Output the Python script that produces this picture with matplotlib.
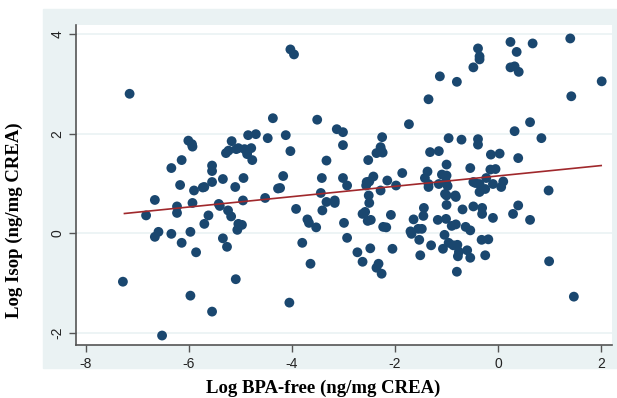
import matplotlib
matplotlib.use('Agg')
import matplotlib.pyplot as plt
import numpy as np
from matplotlib.patches import Rectangle

# Log BPA-free (x) and Log Isop (y)
bpa = [-7.15, -6.01, -5.94, -5.93, -6.14, -6.34, -6.17, -5.90, -5.73, -5.55,
       -5.55, -5.55, -4.03, -3.96, -4.37, -3.51, -3.13, -3.01, -3.01, -4.85,
       -4.70, -4.47, -4.12, -5.17, -4.03, -5.28, -5.23, -5.08, -5.04, -4.92,
       -4.87, -4.87, -4.79, -4.77, -3.33, -5.34, -4.94, -5.10, -4.17, -3.42,
       -3.01, -4.27, -4.23, -0.48, -1.13, -0.80, -1.35, -1.73, -2.25, -0.96,
       -0.71, -0.39, -0.39, -2.28, -2.36, -2.24, -2.27, -2.52, -1.32, -1.15,
       -1.00, -0.54, -2.93, -2.42, -2.55, -2.50, -2.56, -2.15, -1.86, -1.98,
       -2.28, -1.37, -1.42, -1.35, -1.35, -1.15, -1.09, -1.00, -1.01, -0.98,
       -0.48, 0.24, 0.67, 1.40, -0.39, -0.36, -0.36, 0.36, 0.24, 0.32,
       0.40, 2.01, 1.42, 0.62, 0.32, 0.84, -0.14, 0.03, 0.39, -0.15,
       -0.05, -0.23, -0.44, -0.36, -0.10, 0.10, 0.06, -0.25, 0.98, -6.66,
       -6.23, -5.93, -6.23, -6.83, -5.62, -5.70, -6.59, -6.66, -6.34, -5.97,
       -6.14, -5.86, -7.28, -5.97, -6.52, -5.55, -5.42, -5.40, -4.95, -4.52,
       -3.44, -3.33, -3.17, -3.17, -5.24, -5.18, -3.92, -3.41, -3.70, -3.67,
       -3.53, -5.04, -4.97, -5.06, -2.99, -5.34, -5.26, -3.80, -3.64, -5.09,
       -4.05, -2.51, -2.50, -2.63, -2.58, -2.53, -2.47, -2.08, -2.23, -2.17,
       -2.93, -2.73, -2.63, -2.48, -2.32, -2.36, -2.26, -2.05, -1.44, -1.45,
       -1.64, -1.03, -1.00, -0.83, -0.82, -1.00, -0.69, -0.48, -1.17, -1.01,
       -1.55, -1.48, -1.70, -1.68, -0.90, -0.82, -0.63, -0.54, -1.04, -1.53,
       -1.30, -1.51, -1.07, -0.96, -0.87, -0.79, -0.76, -0.78, -0.60, -0.54,
       -0.80, -0.36, -0.31, -0.31, -0.10, 0.29, 0.39, 0.62, -0.32, -0.19,
       -0.25, 0.99, 1.47, -5.70]
isop = [2.80, 1.86, 1.79, 1.74, 1.47, 1.31, 0.97, 0.86, 0.92, 1.36,
        1.25, 1.03, 3.69, 3.59, 2.31, 2.28, 2.09, 2.03, 1.77, 1.97,
        1.99, 1.91, 1.97, 1.85, 1.65, 1.61, 1.66, 1.69, 1.71, 1.69,
        1.64, 1.59, 1.71, 1.47, 1.46, 1.09, 1.11, 0.93, 1.15, 1.11,
        1.11, 0.90, 0.91, 3.33, 3.15, 3.04, 2.69, 2.19, 1.93, 1.91,
        1.88, 1.89, 1.78, 1.73, 1.61, 1.62, 1.67, 1.47, 1.63, 1.65,
        1.38, 1.31, 0.96, 1.14, 1.03, 1.04, 0.96, 1.06, 1.21, 0.96,
        0.86, 1.24, 1.11, 0.99, 0.93, 0.99, 1.18, 1.16, 1.03, 0.95,
        1.03, 3.84, 3.81, 3.91, 3.71, 3.55, 3.49, 3.64, 3.33, 3.35,
        3.24, 3.05, 2.75, 2.23, 2.05, 1.91, 1.58, 1.60, 1.51, 1.28,
        1.29, 1.11, 1.01, 0.99, 0.99, 1.04, 0.93, 0.89, 0.86, 0.67,
        0.54, 0.61, 0.41, 0.36, 0.36, 0.19, 0.03, -0.07, -0.01, 0.03,
        -0.19, -0.38, -0.97, -1.25, -2.05, -1.57, 0.59, 0.55, 0.66, 0.71,
        0.81, 0.63, 0.66, 0.61, 0.46, 0.34, 0.49, 0.46, 0.28, 0.21,
        0.12, 0.19, 0.17, 0.07, 0.21, -0.10, -0.27, -0.19, -0.61, -0.92,
        -1.39, 0.76, 0.61, 0.39, 0.43, 0.25, 0.27, 0.37, 0.13, 0.12,
        -0.09, -0.38, -0.57, -0.30, -0.61, -0.69, -0.81, -0.31, 0.51, 0.35,
        0.28, 0.79, 0.76, 0.76, 0.73, 0.57, 0.48, 0.54, 0.27, 0.29,
        0.09, 0.09, 0.04, -0.01, 0.15, 0.18, 0.13, 0.06, -0.03, -0.13,
        -0.24, -0.44, -0.31, -0.19, -0.24, -0.23, -0.37, -0.46, -0.34, -0.49,
        -0.77, 0.83, 0.51, 0.39, 0.31, 0.39, 0.56, 0.27, -0.13, -0.12,
        -0.44, -0.56, -1.27, 0.93]

# fitted line as drawn in the figure
fit_intercept = 1.152
fit_slope = 0.104
fit_range = [-7.25, 2.0]

x_ticks = [-8, -6, -4, -2, 0, 2]
y_ticks = [-2, 0, 2, 4]

navy = '#1a476f'
bg = '#eaf2f3'

fig = plt.figure(figsize=(6.17, 3.98), dpi=100)
# light graph-region background behind the plot area
fig.patches.append(Rectangle((43/617, 1 - 368/398), 574/617, 359/398,
                             transform=fig.transFigure, color=bg, zorder=-5))

ax = fig.add_axes([76/617, 1 - 345/398, 536/617, 320/398])
ax.set_zorder(2)
ax.set_facecolor('white')

ax.scatter(bpa, isop, s=50, color=navy, edgecolors='none', zorder=3)

xf = np.array(fit_range)
ax.plot(xf, fit_intercept + fit_slope * xf, color='#a0282c', lw=1.2, zorder=4)

ax.set_xlim(-8.19, 2.21)
ax.set_ylim(-2.24, 4.18)
ax.set_xticks(x_ticks)
ax.set_yticks(y_ticks)
ax.set_xticklabels([str(t) for t in x_ticks])
ax.set_yticklabels([str(t) for t in y_ticks], rotation=90, va='center')

ax.grid(axis='y', color=bg, lw=1.2, zorder=0)
ax.grid(axis='x', visible=False)
ax.set_axisbelow(True)

for s in ['top', 'right']:
    ax.spines[s].set_visible(False)
for s in ['left', 'bottom']:
    ax.spines[s].set_color('#555555')
    ax.spines[s].set_linewidth(1.2)

ax.tick_params(axis='both', direction='out', length=5, width=1, color='#555555',
               labelsize=10, labelcolor='#222222')
for lab in ax.get_xticklabels() + ax.get_yticklabels():
    lab.set_family('Liberation Sans')

ax.set_xlabel('Log BPA-free (ng/mg CREA)', family='Liberation Serif',
              fontweight='bold', fontsize=13.5)
ax.set_ylabel('Log Isop (ng/mg CREA)', family='Liberation Serif',
              fontweight='bold', fontsize=13.5)
ax.xaxis.set_label_coords(0.461, -0.108)
ax.yaxis.set_label_coords(-0.099, 0.39)

fig.savefig('out.png', dpi=100, facecolor='white')
